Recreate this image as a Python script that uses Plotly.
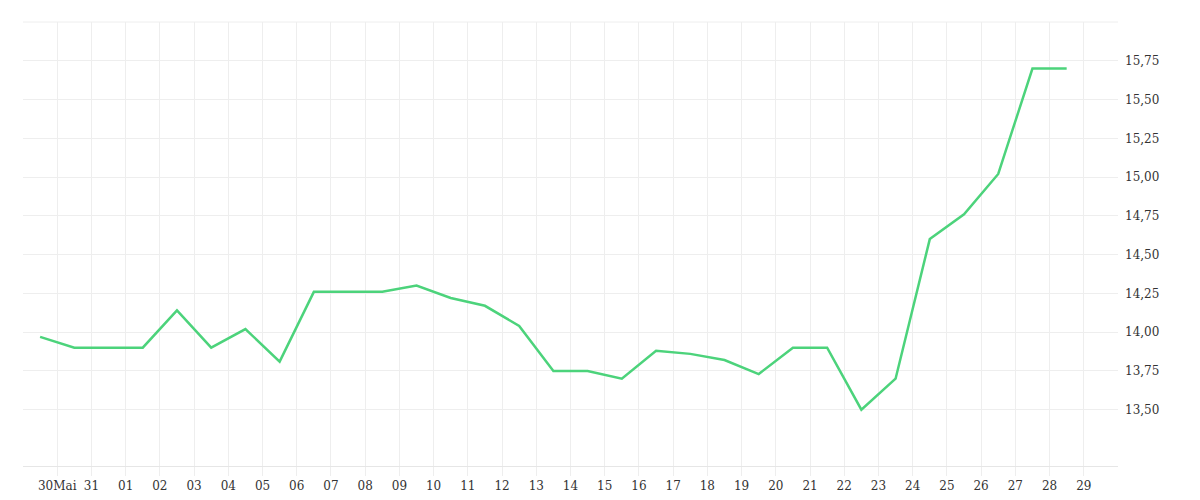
import plotly.graph_objects as go

tick_labels = ["30Mai", "31", "01", "02", "03", "04", "05", "06", "07", "08", "09", "10", "11", "12",
               "13", "14", "15", "16", "17", "18", "19", "20", "21", "22", "23", "24", "25", "26",
               "27", "28", "29"]
values = [13.97, 13.90, 13.90, 13.90, 14.14, 13.90, 14.02, 13.81, 14.26, 14.26, 14.26, 14.30,
          14.22, 14.17, 14.04, 13.75, 13.75, 13.70, 13.88, 13.86, 13.82, 13.73, 13.90, 13.90,
          13.50, 13.70, 14.60, 14.76, 15.02, 15.70, 15.70]

xs = [k + 0.5 for k in range(len(values))]
tickpos = list(range(1, len(tick_labels) + 1))

fig = go.Figure(go.Scatter(x=xs, y=values, mode="lines",
                           line=dict(color="#4cd37b", width=2.5), hoverinfo="y"))

yticks = [13.5 + 0.25 * i for i in range(10)]
fig.update_layout(
    width=1200, height=500, plot_bgcolor="white", paper_bgcolor="white",
    margin=dict(l=15, r=90, t=14, b=42, autoexpand=False), showlegend=False, separators=",.",
    font=dict(family="DejaVu Serif", size=12, color="#333"),
    xaxis=dict(range=[0, 32], tickvals=tickpos, ticktext=tick_labels, showgrid=True,
               gridcolor="#eeeeee", ticks="outside", ticklen=9, tickcolor="#eeeeee",
               showline=True, linecolor="#e6e6e6", zeroline=False, automargin=False),
    yaxis=dict(side="right", range=[13.137, 16.0], tickvals=yticks,
               ticktext=[f"{v:.2f}".replace(".", ",") for v in yticks],
               showgrid=True, gridcolor="#eeeeee", zeroline=False, ticks="",
               ticklabelstandoff=6, automargin=False),
    shapes=[dict(type="line", xref="paper", yref="paper", x0=0, x1=1, y0=1, y1=1,
                 line=dict(color="#eeeeee", width=1))],
)
fig.write_html("out.html")
